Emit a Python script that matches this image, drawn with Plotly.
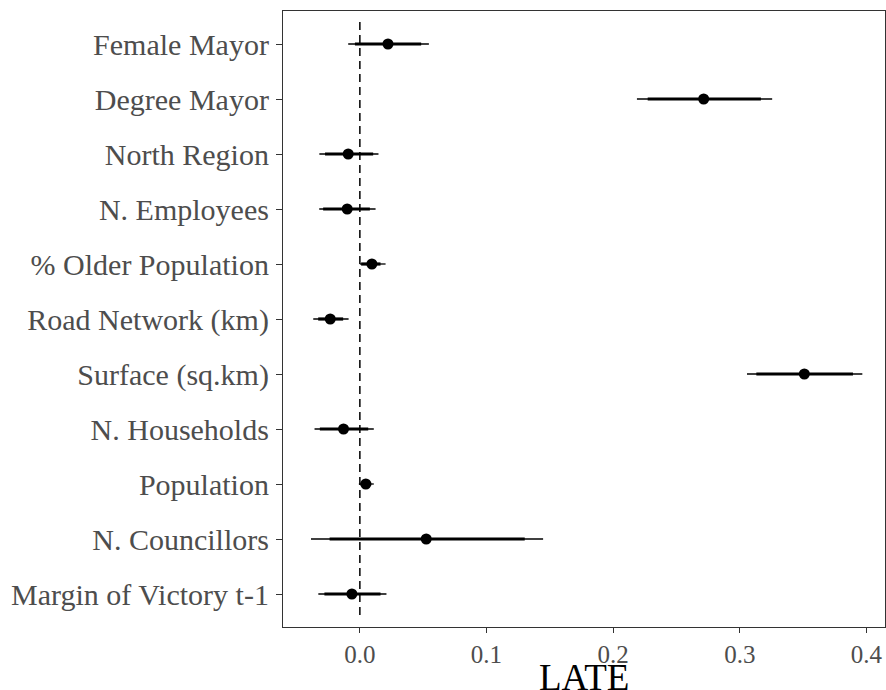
import plotly.graph_objects as go

labels = ["Female Mayor", "Degree Mayor", "North Region", "N. Employees",
          "% Older Population", "Road Network (km)", "Surface (sq.km)",
          "N. Households", "Population", "N. Councillors", "Margin of Victory t-1"]
estimate = [0.0222, 0.2715, -0.0092, -0.0100, 0.0095, -0.0234, 0.3510,
            -0.0129, 0.0047, 0.0524, -0.0063]
ci95_low = [-0.0092, 0.2188, -0.0320, -0.0321, 0.0000, -0.0368, 0.3057,
            -0.0358, -0.0008, -0.0386, -0.0328]
ci95_high = [0.0545, 0.3256, 0.0147, 0.0124, 0.0203, -0.0089, 0.3968,
             0.0110, 0.0110, 0.1447, 0.0210]
ci90_low = [-0.0039, 0.2273, -0.0275, -0.0290, 0.0010, -0.0329, 0.3131,
            -0.0316, 0.0005, -0.0239, -0.0280]
ci90_high = [0.0484, 0.3167, 0.0105, 0.0079, 0.0163, -0.0132, 0.3894,
             0.0066, 0.0090, 0.1302, 0.0163]
x_ticks = [0.0, 0.1, 0.2, 0.3, 0.4]
x_tick_text = ["0.0", "0.1", "0.2", "0.3", "0.4"]
x_title = "LATE"

pos = list(range(len(labels)))

def seg(lo, hi):
    xs, ys = [], []
    for i, (a, b) in enumerate(zip(lo, hi)):
        xs += [a, b, None]
        ys += [i, i, None]
    return xs, ys

fig = go.Figure()
fig.add_shape(type="line", xref="x", yref="y", x0=0, x1=0, y0=-0.4, y1=len(labels) - 1 + 0.46,
              line=dict(color="black", width=1.5, dash="8px,5px"), layer="below")

x95, y95 = seg(ci95_low, ci95_high)
fig.add_trace(go.Scatter(x=x95, y=y95, mode="lines", line=dict(color="black", width=1.3),
                         hoverinfo="skip", showlegend=False))
x90, y90 = seg(ci90_low, ci90_high)
fig.add_trace(go.Scatter(x=x90, y=y90, mode="lines", line=dict(color="black", width=3.2),
                         hoverinfo="skip", showlegend=False))
fig.add_trace(go.Scatter(x=estimate, y=pos, mode="markers",
                         marker=dict(color="black", size=11, line=dict(width=0)),
                         showlegend=False))

serif = "Liberation Serif"
fig.update_layout(
    width=886, height=690,
    margin=dict(l=283, r=1, t=11, b=63),
    paper_bgcolor="white", plot_bgcolor="white",
    font=dict(family=serif, color="#4d4d4d"),
    showlegend=False,
)
fig.add_annotation(text=x_title, xref="paper", yref="paper", x=0.5, y=-0.046,
                   xanchor="center", yanchor="top", showarrow=False,
                   font=dict(family=serif, size=37, color="black"))
fig.update_xaxes(
    range=[-0.0607, 0.4147], tickvals=x_ticks, ticktext=x_tick_text,
    showgrid=False, zeroline=False, showline=True, linecolor="#333333", linewidth=1.2,
    mirror=True, ticks="outside", ticklen=5, tickcolor="#333333", tickwidth=1.2,
    tickfont=dict(family=serif, size=25, color="#4d4d4d"), automargin=False,
)
fig.update_yaxes(
    range=[len(labels) - 1 + 0.6, -0.6], tickvals=pos, ticktext=labels,
    showgrid=False, zeroline=False, showline=True, linecolor="#333333", linewidth=1.2,
    mirror=True, ticks="outside", ticklen=6, tickcolor="#333333", tickwidth=1.2,
    tickfont=dict(family=serif, size=30, color="#4d4d4d"),
    ticklabelstandoff=1, automargin=False,
)
fig.write_html("out.html", config={"displayModeBar": False},
               post_script="document.body.style.margin='0';document.body.style.overflow='hidden';")
